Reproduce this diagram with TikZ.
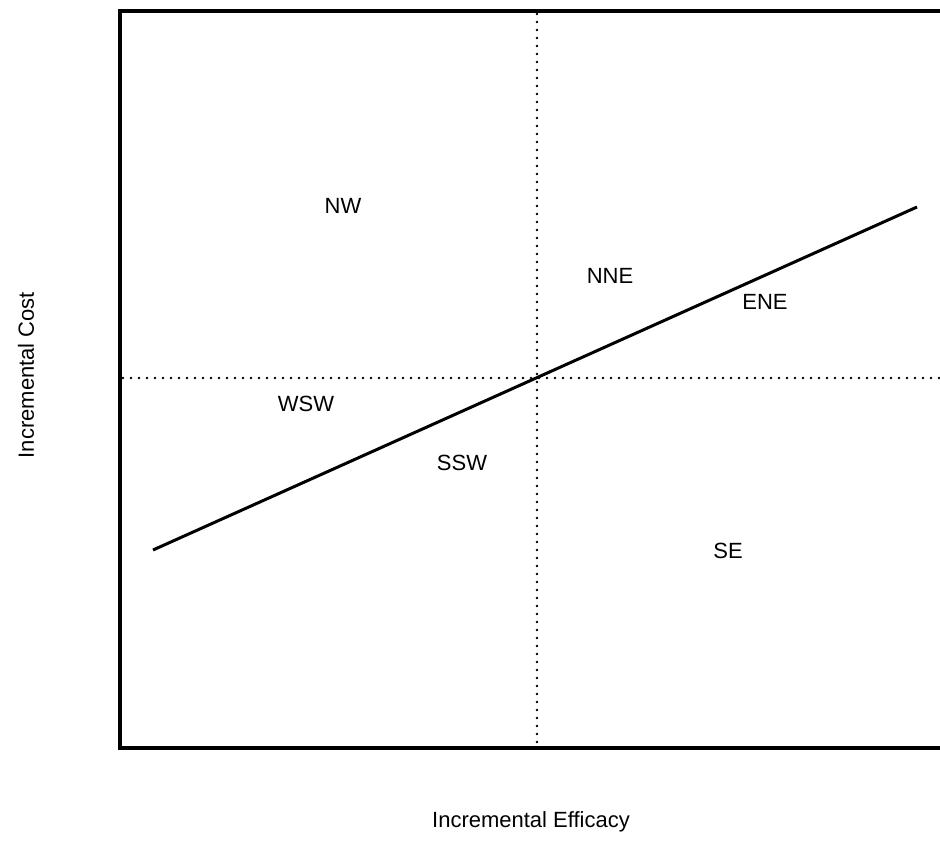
\documentclass[tikz,border=0pt]{standalone}
\usepackage{fontspec}
\setmainfont{Liberation Sans}
\begin{document}
\begin{tikzpicture}[x=1pt,y=-1pt,
  lbl/.style={font=\fontsize{22}{26}\selectfont, inner sep=0pt},
  frameline/.style={line width=3.5pt},
  axisdots/.style={line width=2.8pt, dash pattern=on 0pt off 8pt, line cap=round},
  iline/.style={line width=3pt}]
\useasboundingbox (0,0) rectangle (940,863);
\begin{scope}
\clip (0,0) rectangle (940,863);
\coordinate (tl) at (120,11);
\coordinate (br) at (945,748);
\draw[frameline] (tl) rectangle (br);
\coordinate (vt) at (537,14);
\coordinate (vb) at (537,746);
\coordinate (hl) at (123,378);
\coordinate (hr) at (940,378);
\draw[axisdots] (vt) -- (vb);
\draw[axisdots] (hl) -- (hr);
\coordinate (ls) at (153,550);
\coordinate (le) at (917,207);
\draw[iline] (ls) -- (le);
\end{scope}
\node[lbl] (nw) at (343,206) {NW};
\node[lbl] (nne) at (610,276) {NNE};
\node[lbl] (ene) at (765,302) {ENE};
\node[lbl] (wsw) at (306,404) {WSW};
\node[lbl] (ssw) at (462,463) {SSW};
\node[lbl] (se) at (728,551) {SE};
\node[lbl, rotate=90] (ylab) at (26,375) {Incremental Cost};
\node[lbl] (xlab) at (531,822) {Incremental Efficacy};
\end{tikzpicture}
\end{document}
